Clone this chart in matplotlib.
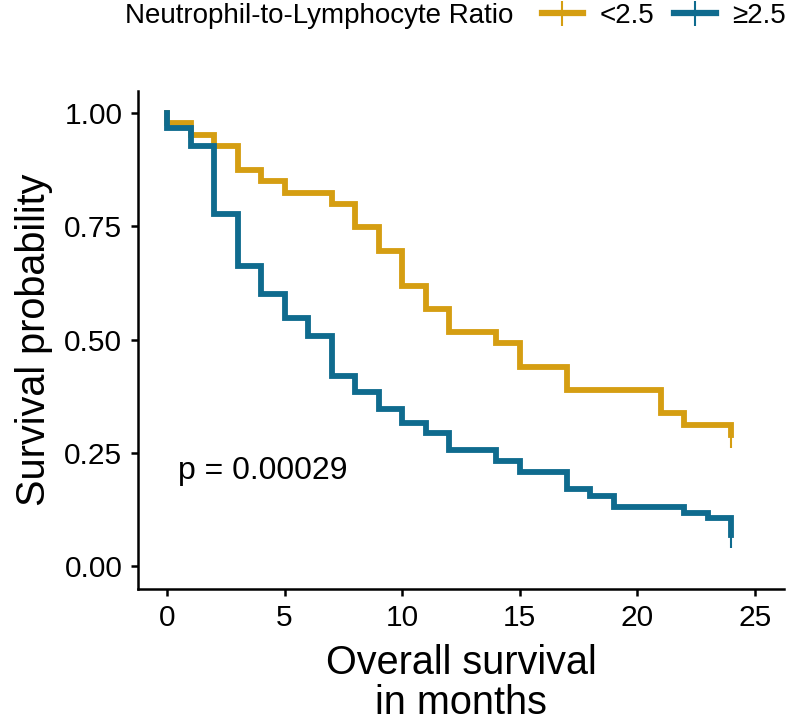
import matplotlib.pyplot as plt
from matplotlib.lines import Line2D

plt.rcParams['font.family'] = ['Liberation Sans', 'DejaVu Sans']

# Kaplan-Meier steps (months, survival after the step)
time_low = [0, 0, 1, 2, 3, 4, 5, 7, 8, 9, 10, 11, 12, 14, 15, 17, 21, 22, 24]
surv_low = [1.0, 0.978, 0.951, 0.927, 0.874, 0.850, 0.823, 0.799, 0.748, 0.695,
            0.618, 0.567, 0.517, 0.492, 0.440, 0.389, 0.337, 0.311, 0.290]

time_high = [0, 0, 1, 2, 3, 4, 5, 6, 7, 8, 9, 10, 11, 12, 14, 15, 17, 18, 19,
             22, 23, 24]
surv_high = [1.0, 0.967, 0.927, 0.777, 0.662, 0.600, 0.547, 0.508, 0.420, 0.385,
             0.346, 0.315, 0.293, 0.256, 0.232, 0.208, 0.170, 0.155, 0.130,
             0.117, 0.106, 0.068]

# censored observations at the end of follow-up
censor_low = (24, 0.290)
censor_high = (24, 0.068)

groups = ['<2.5', '\u22652.5']
colors = ['#D59E12', '#0F6B8E']
pval_text = 'p = 0.00029'

fig = plt.figure(figsize=(8, 7.24), dpi=100)
ax = fig.add_axes([0.172, 0.187, 0.8085, 0.688])

ax.step(time_low, surv_low, where='post', color=colors[0], lw=4.2,
        solid_joinstyle='miter')
ax.step(time_high, surv_high, where='post', color=colors[1], lw=4.2,
        solid_joinstyle='miter')
ax.plot(*censor_low, marker='|', ms=18, mew=1.5, color=colors[0])
ax.plot(*censor_high, marker='|', ms=18, mew=1.5, color=colors[1])

ax.text(0.47, 0.21, pval_text, fontsize=23, va='center', ha='left')

ax.set_xlim(-1.25, 26.25)
ax.set_ylim(-0.05, 1.05)
ax.set_xticks([0, 5, 10, 15, 20, 25])
ax.set_yticks([0, 0.25, 0.5, 0.75, 1.0])
ax.set_yticklabels(['0.00', '0.25', '0.50', '0.75', '1.00'])
ax.spines['top'].set_visible(False)
ax.spines['right'].set_visible(False)
for s in ['left', 'bottom']:
    ax.spines[s].set_linewidth(1.8)
ax.tick_params(axis='both', direction='out', length=5, width=1.8,
               labelsize=21.5, pad=6)

ax.set_ylabel('Survival probability', fontsize=28.5, labelpad=8)
ax.set_xlabel('Overall survival\nin months', fontsize=28.5, labelpad=9,
              linespacing=1.05)

# legend across the top
fig.text(125 / 800, 1 - 16 / 724, 'Neutrophil-to-Lymphocyte Ratio',
         fontsize=20, va='center', ha='left')
handles = [Line2D([], [], color=c, lw=4.5, marker='|', ms=18, mew=1.5)
           for c in colors]
fig.legend(handles, groups, loc='center right', ncol=2, frameon=False,
           bbox_to_anchor=(1.0, 1 - 16 / 724), fontsize=20, handlelength=1.5,
           columnspacing=0.7, handletextpad=0.6, borderaxespad=0.1)

fig.savefig('out.png', dpi=100)
